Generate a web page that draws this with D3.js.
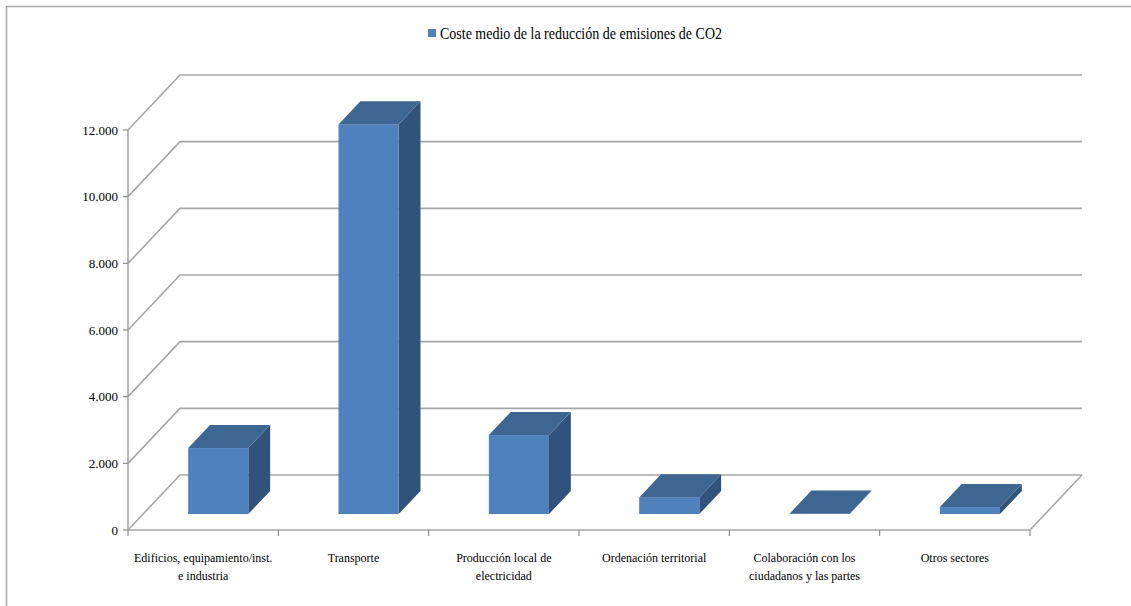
<!DOCTYPE html>
<html>
<head>
<meta charset="utf-8">
<script src="https://cdn.jsdelivr.net/npm/d3@7"></script>
<style>
  html, body { margin: 0; padding: 0; background: #ffffff; }
  svg { display: block; }
  text { font-family: "Liberation Serif", "Times New Roman", serif; fill: #000; }
</style>
</head>
<body>
<svg id="chart" width="1131" height="606"></svg>
<script>
// Sectors and average CO2 reduction cost per sector
const categories = [
  ["Edificios, equipamiento/inst.", "e industria"],
  ["Transporte"],
  ["Producción local de", "electricidad"],
  ["Ordenación territorial"],
  ["Colaboración con los", "ciudadanos y las partes"],
  ["Otros sectores"]
];
const values = [1980, 11690, 2370, 500, 10, 210];
const yTicks = [0, 2000, 4000, 6000, 8000, 10000, 12000];
const tickLabels = ["0", "2.000", "4.000", "6.000", "8.000", "10.000", "12.000"];
const seriesName = "Coste medio de la reducción de emisiones  de CO2";

const svg = d3.select("#chart");

// Front plane of the 3-D box
const x0 = 128, x1 = 1030, yBase = 530, yTop = 130;
// Full depth of the floor / walls
const depthX = 52, depthY = -55;

const keys = categories.map((c, i) => String(i));
const x = d3.scaleBand().domain(keys).range([x0, x1]).paddingInner(0.6).paddingOuter(0.3);
const y = d3.scaleLinear().domain([0, 12000]).range([yBase, yTop]);
// depth fraction -> offset along the receding axis
const dz = d3.scaleLinear().domain([0, 1]).range([0, 1]);
const off = f => [depthX * dz(f), depthY * dz(f)];

const gridColor = "#a6a6a6";

// Outer chart frame
svg.append("path")
  .attr("d", "M6.5,606 L6.5,6.5 L1131,6.5")
  .attr("fill", "none").attr("stroke", "#a8a8a8").attr("stroke-width", 1.5);

// Wall and floor gridlines
const grid = svg.append("g").attr("fill", "none").attr("stroke", gridColor).attr("stroke-width", 1.6);
yTicks.forEach(v => {
  const yy = y(v);
  grid.append("path")
    .attr("d", `M${x0},${yy} L${x0 + depthX},${yy + depthY} L${x1 + depthX},${yy + depthY}`);
});
// Floor front edge and right edge
grid.append("path").attr("d", `M${x0},${yBase} L${x1},${yBase} L${x1 + depthX},${yBase + depthY}`);

// Value axis
const axisG = svg.append("g").attr("stroke", "#8c8c8c").attr("stroke-width", 1.2);
axisG.append("line").attr("x1", x0).attr("x2", x0).attr("y1", y(12000)).attr("y2", yBase);
yTicks.forEach(v => {
  axisG.append("line").attr("x1", x0 - 5).attr("x2", x0).attr("y1", y(v)).attr("y2", y(v));
});
// Category ticks
const bounds = keys.map(k => x(k) - x.step() * x.paddingInner() / 2).concat([x1]);
bounds.forEach(b => {
  axisG.append("line").attr("x1", b).attr("x2", b).attr("y1", yBase).attr("y2", yBase + 6);
});

svg.append("g").selectAll("text").data(yTicks).join("text")
  .attr("x", x0 - 10).attr("y", v => y(v) + 4.5)
  .attr("text-anchor", "end").attr("font-size", 13)
  .attr("font-family", "Liberation Serif, serif")
  .text((v, i) => tickLabels[i]);

// Bars as 3-D boxes
const zFront = 0.29, zBack = 0.71;
const cFront = "#4f81bd", cTop = "#3d6693", cSide = "#31527b";
const barsG = svg.append("g");
values.forEach((v, i) => {
  const k = keys[i];
  const [fx, fy] = off(zFront);
  const [bx, by] = off(zBack);
  const l = x(k) + fx, r = x(k) + x.bandwidth() + fx;
  const t = y(v) + fy, b = y(0) + fy;
  const ddx = bx - fx, ddy = by - fy;
  const g = barsG.append("g");
  g.append("path").attr("fill", cSide)
    .attr("d", `M${r},${b} L${r + ddx},${b + ddy} L${r + ddx},${t + ddy} L${r},${t} Z`);
  g.append("rect").attr("fill", cFront)
    .attr("x", l).attr("y", t).attr("width", r - l).attr("height", Math.max(0, b - t));
  g.append("path").attr("fill", cTop)
    .attr("d", `M${l},${t} L${l + ddx},${t + ddy} L${r + ddx},${t + ddy} L${r},${t} Z`);
});

// Category labels
const labG = svg.append("g");
categories.forEach((lines, i) => {
  const cx = x(keys[i]) + x.bandwidth() / 2;
  const t = labG.append("text").attr("text-anchor", "middle").attr("font-size", 12)
    .attr("font-family", "Liberation Serif, serif");
  lines.forEach((ln, j) => {
    t.append("tspan").attr("x", cx).attr("y", 562 + j * 18).text(ln);
  });
});

// Legend
const lg = svg.append("g");
lg.append("rect").attr("x", 428).attr("y", 29).attr("width", 8).attr("height", 8).attr("fill", cFront);
lg.append("text").attr("x", 440).attr("y", 39).attr("font-size", 16)
  .attr("font-family", "Liberation Serif, serif")
  .attr("textLength", 282).attr("lengthAdjust", "spacingAndGlyphs")
  .text(seriesName);
</script>
</body>
</html>
